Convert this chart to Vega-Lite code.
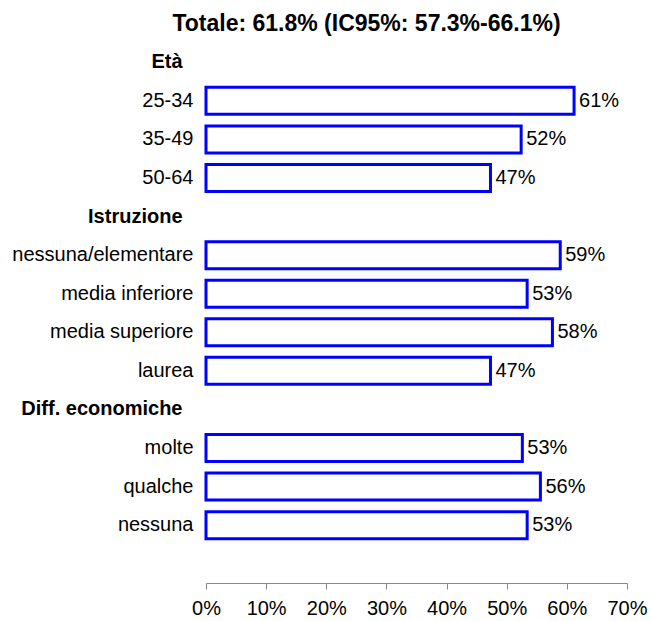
{
  "$schema": "https://vega.github.io/schema/vega-lite/v6.json",
  "autosize": {"type": "none"},
  "padding": {"left": 206, "top": 43, "right": 25, "bottom": 38},
  "width": 421,
  "height": 540,
  "background": "white",
  "title": {
    "text": "Totale: 61.8% (IC95%: 57.3%-66.1%)",
    "font": "Liberation Sans",
    "fontSize": 23,
    "fontWeight": "bold",
    "color": "black",
    "anchor": "middle",
    "frame": "group",
    "baseline": "alphabetic",
    "dx": -50,
    "dy": 23,
    "offset": 12
  },
  "config": {
    "view": {"stroke": null},
    "font": "Liberation Sans"
  },
  "data": {
    "values": [
      {"cat": "25-34", "v": 0.612},
      {"cat": "35-49", "v": 0.524},
      {"cat": "50-64", "v": 0.473},
      {"cat": "nessuna/elementare", "v": 0.589},
      {"cat": "media inferiore", "v": 0.534},
      {"cat": "media superiore", "v": 0.576},
      {"cat": "laurea", "v": 0.473},
      {"cat": "molte", "v": 0.526},
      {"cat": "qualche", "v": 0.556},
      {"cat": "nessuna", "v": 0.534}
    ]
  },
  "encoding": {
    "y": {
      "field": "cat",
      "type": "nominal",
      "sort": null,
      "scale": {
        "domain": ["Età", "25-34", "35-49", "50-64", "Istruzione", "nessuna/elementare", "media inferiore", "media superiore", "laurea", "Diff. economiche", "molte", "qualche", "nessuna", " "],
        "paddingInner": 0.3,
        "paddingOuter": 0.15
      },
      "axis": {
        "title": null,
        "domain": false,
        "ticks": false,
        "labelPadding": {
          "condition": {"test": "indexof(['Età','Istruzione','Diff. economiche'], datum.value) >= 0", "value": 24},
          "value": 13
        },
        "labelFontSize": 20,
        "labelColor": "black",
        "labelFont": "Liberation Sans",
        "labelLimit": 300,
        "labelFontWeight": {
          "condition": {"test": "indexof(['Età','Istruzione','Diff. economiche'], datum.value) >= 0", "value": "bold"},
          "value": "normal"
        }
      }
    },
    "x": {
      "field": "v",
      "type": "quantitative",
      "scale": {"domain": [0, 0.7], "nice": false},
      "axis": {
        "title": null,
        "values": [0, 0.1, 0.2, 0.3, 0.4, 0.5, 0.6, 0.7],
        "format": ".0%",
        "grid": false,
        "labelFlush": false,
        "labelOverlap": false,
        "domainColor": "#888888",
        "tickColor": "#888888",
        "tickSize": 6,
        "labelFontSize": 20,
        "labelColor": "black",
        "labelPadding": 9,
        "labelFont": "Liberation Sans"
      }
    }
  },
  "layer": [
    {
      "mark": {"type": "bar", "fill": "white", "stroke": "#0000FF", "strokeWidth": 3}
    },
    {
      "mark": {"type": "text", "align": "left", "baseline": "middle", "dx": 5, "fontSize": 20, "color": "black"},
      "encoding": {
        "text": {"field": "v", "type": "quantitative", "format": ".0%"}
      }
    }
  ]
}
